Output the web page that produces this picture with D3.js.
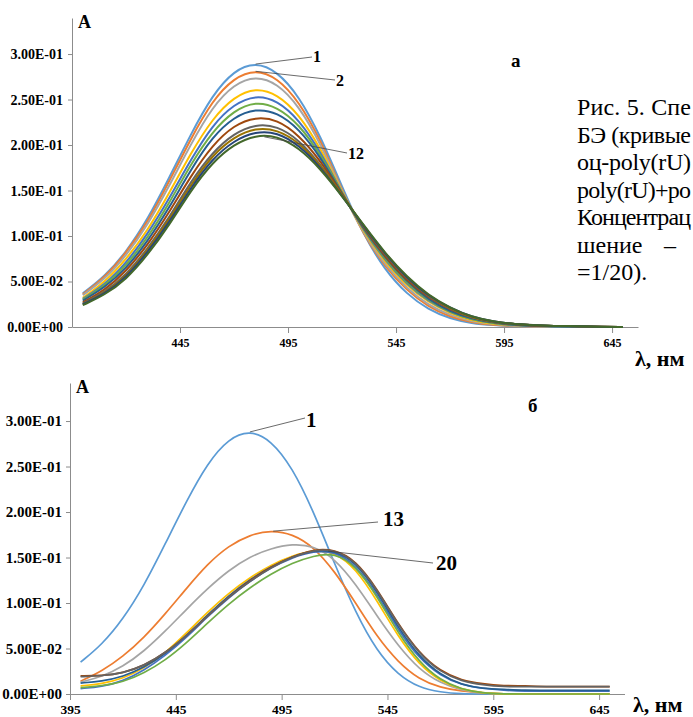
<!DOCTYPE html>
<html>
<head>
<meta charset="utf-8">
<script src="https://cdn.jsdelivr.net/npm/d3@7"></script>
<style>
body { margin: 0; background: #fff; }
svg { display: block; }
</style>
</head>
<body>
<script>
// wavelengths, nm
const wavelengths = [400,410,420,430,440,450,460,470,480,490,500,510,520,530,540,550,560,570,580,590,600,610,620,630,640,650];

// panel a: curves 1..12
const a01 = [0.037,0.055,0.082,0.118,0.164,0.212,0.255,0.282,0.291,0.281,0.254,0.210,0.154,0.101,0.062,0.036,0.019,0.009,0.004,0.002,0.001,0,0,0,0,0];
const a02 = [0.036,0.054,0.081,0.115,0.160,0.207,0.249,0.274,0.283,0.274,0.248,0.206,0.150,0.101,0.066,0.040,0.022,0.011,0.005,0.002,0.001,0,0,0,0,0];
const a03 = [0.035,0.052,0.078,0.112,0.155,0.201,0.242,0.267,0.276,0.268,0.243,0.202,0.149,0.102,0.068,0.042,0.024,0.013,0.006,0.003,0.001,0,0,0,0,0];
const a04 = [0.032,0.049,0.074,0.106,0.147,0.191,0.229,0.253,0.263,0.256,0.234,0.197,0.148,0.104,0.071,0.045,0.027,0.015,0.007,0.003,0.002,0.001,0,0,0,0];
const a05 = [0.031,0.046,0.070,0.102,0.141,0.184,0.222,0.245,0.255,0.249,0.228,0.193,0.147,0.106,0.073,0.047,0.028,0.016,0.008,0.004,0.002,0.001,0,0,0,0];
const a06 = [0.030,0.045,0.067,0.098,0.136,0.179,0.215,0.238,0.248,0.242,0.223,0.190,0.147,0.107,0.074,0.048,0.029,0.016,0.008,0.004,0.002,0.001,0.001,0,0,0];
const a07 = [0.029,0.043,0.064,0.094,0.131,0.173,0.209,0.231,0.240,0.236,0.218,0.187,0.146,0.108,0.076,0.050,0.030,0.017,0.009,0.005,0.002,0.001,0.001,0,0,0];
const a08 = [0.027,0.040,0.061,0.090,0.126,0.166,0.200,0.222,0.231,0.228,0.211,0.183,0.146,0.109,0.077,0.051,0.032,0.019,0.010,0.005,0.003,0.001,0.001,0.001,0,0];
const a09 = [0.026,0.038,0.057,0.086,0.120,0.160,0.192,0.213,0.223,0.221,0.206,0.179,0.145,0.110,0.079,0.053,0.033,0.020,0.010,0.005,0.003,0.002,0.001,0.001,0,0];
const a10 = [0.025,0.037,0.055,0.084,0.118,0.156,0.189,0.209,0.219,0.217,0.203,0.178,0.145,0.111,0.080,0.054,0.034,0.020,0.010,0.006,0.003,0.002,0.001,0.001,0,0];
const a11 = [0.025,0.036,0.054,0.082,0.115,0.153,0.185,0.205,0.215,0.214,0.200,0.176,0.144,0.111,0.080,0.054,0.034,0.021,0.011,0.006,0.003,0.002,0.001,0.001,0,0];
const a12 = [0.024,0.035,0.052,0.079,0.112,0.150,0.181,0.201,0.211,0.210,0.197,0.174,0.144,0.112,0.081,0.055,0.035,0.021,0.011,0.006,0.003,0.002,0.001,0.001,0,0];

// panel б: curve 1 and 13..20
const b01 = [0.035,0.054,0.082,0.119,0.165,0.212,0.254,0.281,0.290,0.279,0.249,0.201,0.143,0.089,0.047,0.021,0.007,0.002,0,0,0,0,0,0,0,0];
const b13 = [0.014,0.025,0.041,0.062,0.088,0.116,0.143,0.163,0.175,0.180,0.176,0.162,0.135,0.100,0.063,0.035,0.016,0.007,0.003,0.001,0,0,0,0,0,0];
const b14 = [0.013,0.019,0.030,0.047,0.069,0.093,0.116,0.136,0.151,0.160,0.165,0.163,0.149,0.121,0.086,0.053,0.027,0.012,0.004,0.001,0,0,0,0,0,0];
const b15 = [0.009,0.011,0.017,0.028,0.045,0.067,0.090,0.111,0.128,0.142,0.152,0.158,0.156,0.138,0.103,0.063,0.032,0.014,0.005,0.001,0,0,0,0,0,0];
const b16 = [0.006,0.008,0.014,0.026,0.042,0.062,0.085,0.106,0.124,0.139,0.150,0.157,0.157,0.142,0.110,0.070,0.039,0.020,0.010,0.006,0.004,0.003,0.003,0.003,0.003,0.003];
const b17 = [0.007,0.009,0.013,0.023,0.037,0.056,0.078,0.099,0.117,0.132,0.144,0.152,0.155,0.141,0.108,0.067,0.035,0.015,0.005,0.001,0,0,0,0,0,0];
const b18 = [0.012,0.014,0.019,0.029,0.044,0.064,0.087,0.108,0.126,0.140,0.151,0.158,0.158,0.145,0.113,0.073,0.041,0.021,0.010,0.006,0.005,0.004,0.004,0.004,0.004,0.004];
const b19 = [0.020,0.020,0.023,0.031,0.045,0.064,0.086,0.107,0.125,0.140,0.151,0.159,0.159,0.147,0.116,0.077,0.045,0.025,0.015,0.011,0.009,0.009,0.008,0.008,0.008,0.008];
const b20 = [0.019,0.020,0.023,0.031,0.045,0.064,0.086,0.107,0.124,0.139,0.151,0.158,0.159,0.146,0.115,0.076,0.044,0.024,0.014,0.010,0.008,0.008,0.008,0.008,0.008,0.008];

const xTickValues = [395,445,495,545,595,645];
const yTickValues = [0,0.05,0.10,0.15,0.20,0.25,0.30];

// caption lines as far as the page shows them
const caption = ["Рис. 5. Спе", "БЭ (кривые", "оц-poly(rU)", "poly(rU)+po", "Концентрац", "шение", "=1/20)."];

const palette = ['#5B9BD5','#ED7D31','#A5A5A5','#FFC000','#4472C4','#70AD47','#255E91','#9E480E','#636363','#997300','#264478','#43682B'];

const serif = "'Liberation Serif','Times New Roman',serif";

const svg = d3.select('body').append('svg').attr('width', 693).attr('height', 717);
svg.append('rect').attr('width', 693).attr('height', 717).attr('fill', '#fff');

// 3.00E-01 style labels
function sci(d) {
  if (d === 0) return '0.00E+00';
  const e = Math.floor(Math.log10(d) + 1e-9);
  const m = d / Math.pow(10, e);
  return m.toFixed(2) + 'E' + (e < 0 ? '-' : '+') + String(Math.abs(e)).padStart(2, '0');
}

function drawPanel(p) {
  const x = d3.scaleLinear().domain([395, 657]).range([p.left, p.right]);
  const y = d3.scaleLinear().domain([0, p.yMax]).range([p.bottom, p.top]);
  const g = svg.append('g');

  const xa = g.append('g').attr('transform', `translate(0,${p.bottom})`)
    .call(d3.axisBottom(x).tickValues(p.xTicks).tickSize(6).tickSizeOuter(0).tickPadding(p.xPad).tickFormat(d3.format('d')));
  const ya = g.append('g').attr('transform', `translate(${p.left},0)`)
    .call(d3.axisLeft(y).tickValues(yTickValues).tickSize(4).tickSizeOuter(0).tickPadding(p.yPad).tickFormat(sci));

  [xa, ya].forEach(a => {
    a.select('.domain').attr('stroke', '#8c8c8c');
    a.selectAll('.tick line').attr('stroke', '#8c8c8c');
    a.selectAll('text').attr('font-family', serif).attr('font-weight', 'bold').attr('fill', '#000');
  });
  xa.selectAll('text').attr('font-size', p.xFont);
  ya.selectAll('text').attr('font-size', p.yFont);

  const line = d3.line()
    .x((d, i) => x(wavelengths[i]))
    .y(d => y(d))
    .curve(d3.curveBasis);

  p.series.forEach((s, i) => {
    g.append('path').attr('d', line(s)).attr('fill', 'none')
      .attr('stroke', palette[i]).attr('stroke-width', p.lineWidth);
  });

  // curve numbers with leader lines
  p.labels.forEach(l => {
    g.append('line').attr('x1', x(l.wl)).attr('y1', y(l.a)).attr('x2', l.lx).attr('y2', l.ly)
      .attr('stroke', '#444').attr('stroke-width', 0.8);
    g.append('text').attr('x', l.tx).attr('y', l.ty).text(l.text)
      .attr('font-family', serif).attr('font-weight', 'bold').attr('font-size', p.labelFont);
  });

  g.append('text').attr('x', p.left + 6).attr('y', p.top + 10).text('A')
    .attr('font-family', serif).attr('font-weight', 'bold').attr('font-size', 18);
  g.append('text').attr('x', p.lamX).attr('y', p.lamY).text('λ, нм')
    .attr('font-family', serif).attr('font-weight', 'bold').attr('font-size', 22);
  g.append('text').attr('x', p.tagX).attr('y', p.tagY).text(p.tag)
    .attr('font-family', serif).attr('font-weight', 'bold').attr('font-size', 19);
}

drawPanel({
  left: 72, right: 638, top: 18, bottom: 327, yMax: 0.3396,
  xTicks: xTickValues.slice(1), xPad: 5, xFont: 12, yPad: 5, yFont: 14,
  series: [a01,a02,a03,a04,a05,a06,a07,a08,a09,a10,a11,a12], lineWidth: 2,
  labelFont: 16,
  labels: [
    {text: '1', wl: 480, a: 0.289, lx: 312, ly: 57, tx: 313, ty: 62},
    {text: '2', wl: 480, a: 0.281, lx: 335, ly: 80, tx: 336, ty: 86},
    {text: '12', wl: 484, a: 0.209, lx: 347, ly: 153, tx: 348, ty: 159}
  ],
  lamX: 635, lamY: 366,
  tag: 'а', tagX: 511, tagY: 67
});

drawPanel({
  left: 70, right: 624.5, top: 383, bottom: 694, yMax: 0.3418,
  xTicks: xTickValues, xPad: 4, xFont: 13.5, yPad: 4, yFont: 15,
  series: [b01,b13,b14,b15,b16,b17,b18,b19,b20], lineWidth: 1.7,
  labelFont: 21,
  labels: [
    {text: '1', wl: 480, a: 0.288, lx: 305, ly: 418, tx: 306, ty: 427},
    {text: '13', wl: 491, a: 0.179, lx: 378, ly: 522, tx: 383, ty: 526},
    {text: '20', wl: 517, a: 0.157, lx: 433, ly: 563, tx: 436, ty: 570}
  ],
  lamX: 633, lamY: 712,
  tag: 'б', tagX: 528, tagY: 412
});

// caption on the right, justified up to the page edge
const cap = svg.append('g').attr('font-family', serif).attr('font-size', 24).attr('fill', '#000');
caption.forEach((t, i) => {
  const txt = cap.append('text').attr('x', 577).attr('y', 115 + i * 27.5).text(t);
  if (i < 5) txt.attr('textLength', 114).attr('lengthAdjust', 'spacing');
});
cap.append('text').attr('x', 664).attr('y', 115 + 5 * 27.5).text('–');
</script>
</body>
</html>
